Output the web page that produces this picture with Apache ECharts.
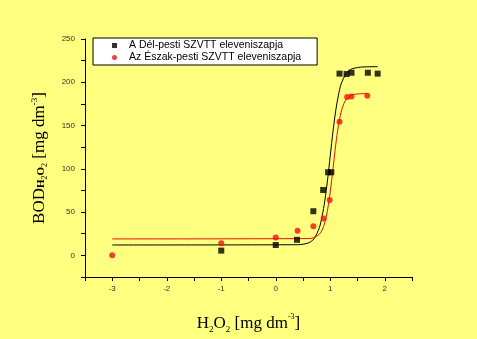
<!DOCTYPE html>
<html><head><meta charset="utf-8">
<script src="https://cdn.jsdelivr.net/npm/echarts@6/dist/echarts.min.js"></script>
<style>html,body{margin:0;padding:0;background:#FFFF80;}#c{width:477px;height:339px;}</style>
</head><body><div id="c"></div>
<script>
// Measured points
const delPestiPoints = [[-1,5.5],[0,12],[0.39,18],[0.69,51],[0.87,75.5],[0.96,96],[1.02,96],[1.17,210],[1.30,209.5],[1.39,211],[1.69,211],[1.87,210]];
const eszakPestiPoints = [[-3,0],[-1,14],[0,20.5],[0.40,28.5],[0.69,33.5],[0.88,42.5],[0.99,64],[1.17,154.5],[1.31,183],[1.39,183.5],[1.68,184.5]];
// Fitted curves
const delPestiCurve = [[-3,12],[0.4,12.3],[0.6,14.4],[0.7,19],[0.8,32],[0.85,45],[0.9,63],[0.95,87],[1.0,115],[1.05,143],[1.1,167],[1.15,185],[1.2,198],[1.3,211],[1.4,215.5],[1.6,217.7],[1.87,218]];
const eszakPestiCurve = [[-3,19],[0.6,19.4],[0.7,20.5],[0.8,24.4],[0.85,29.3],[0.9,37.8],[0.95,52.3],[1.0,73.5],[1.05,100],[1.1,127.4],[1.15,150],[1.2,165.7],[1.25,175.4],[1.3,180.8],[1.4,185.3],[1.5,186.5],[1.69,187]];
const legendNames = ['A Dél-pesti SZVTT eleveniszapja','Az Észak-pesti SZVTT eleveniszapja'];

const chart = echarts.init(document.getElementById('c'));
const serif = 'Liberation Serif';
chart.setOption({
  backgroundColor:'#FFFF80',
  animation:false,
  grid:{left:85,right:65,top:39,bottom:56,containLabel:false},
  legend:{
    data:[{name:legendNames[0],icon:'rect'},{name:legendNames[1],icon:'circle'}],
    orient:'vertical', left:93, top:38,
    backgroundColor:'#ffffff', borderColor:'#000', borderWidth:1,
    padding:[2,16,2,19], itemGap:1, itemWidth:5, itemHeight:5,
    textStyle:{fontFamily:'Liberation Sans',fontSize:10.5,lineHeight:10.5,color:'#000',padding:[0,0,0,7]}
  },
  xAxis:{
    type:'value', min:-3.5, max:2.5, interval:0.5,
    axisLine:{show:true,onZero:false,lineStyle:{color:'#000',width:1}},
    axisTick:{show:true,length:4,inside:false,lineStyle:{color:'#000'}},
    splitLine:{show:false},
    axisLabel:{fontFamily:'Liberation Sans',fontSize:8,color:'#333',margin:8,
      formatter:v=>Number.isInteger(v)?String(v):''},
    name:'H{sub|2}O{sub|2} [mg dm{sup|-3}]', nameLocation:'middle', nameGap:36,
    nameTextStyle:{fontFamily:serif,fontSize:17,color:'#000',
      rich:{sub:{fontFamily:serif,fontSize:9,verticalAlign:'bottom',padding:[12,0,0,0]},
            sup:{fontFamily:serif,fontSize:8,verticalAlign:'top',padding:[0,0,10,0]}}}
  },
  yAxis:{
    type:'value', min:-25, max:250, interval:25,
    axisLine:{show:true,onZero:false,lineStyle:{color:'#000',width:1}},
    axisTick:{show:true,length:4,lineStyle:{color:'#000'}},
    splitLine:{show:false},
    axisLabel:{fontFamily:'Liberation Sans',fontSize:8,color:'#333',margin:10,
      formatter:v=>(v%50===0)?String(v):''},
    name:'BOD{s|H}{ss|2}{s|O}{ss|2} [mg dm{sup|-3}]', nameLocation:'middle', nameGap:36, nameRotate:90,
    nameTextStyle:{fontFamily:serif,fontSize:17,color:'#000',
      rich:{s:{fontFamily:serif,fontSize:11,fontWeight:'bold',padding:[4,0,0,0]},
            ss:{fontFamily:serif,fontSize:8,padding:[10,0,0,0]},
            sup:{fontFamily:serif,fontSize:9,padding:[0,0,10,0]}}}
  },
  series:[
    {name:legendNames[0],type:'scatter',data:delPestiPoints,symbol:'rect',symbolSize:6,
     itemStyle:{color:'#000'},z:4},
    {name:legendNames[1],type:'scatter',data:eszakPestiPoints,symbol:'circle',symbolSize:6,
     itemStyle:{color:'#ee1111'},z:5},
    {name:'fit1',type:'line',data:delPestiCurve,smooth:0.3,showSymbol:false,symbol:'none',
     lineStyle:{color:'#000',width:1},z:2},
    {name:'fit2',type:'line',data:eszakPestiCurve,smooth:0.3,showSymbol:false,symbol:'none',
     lineStyle:{color:'#dd1100',width:1},z:2}
  ]
});
</script></body></html>
